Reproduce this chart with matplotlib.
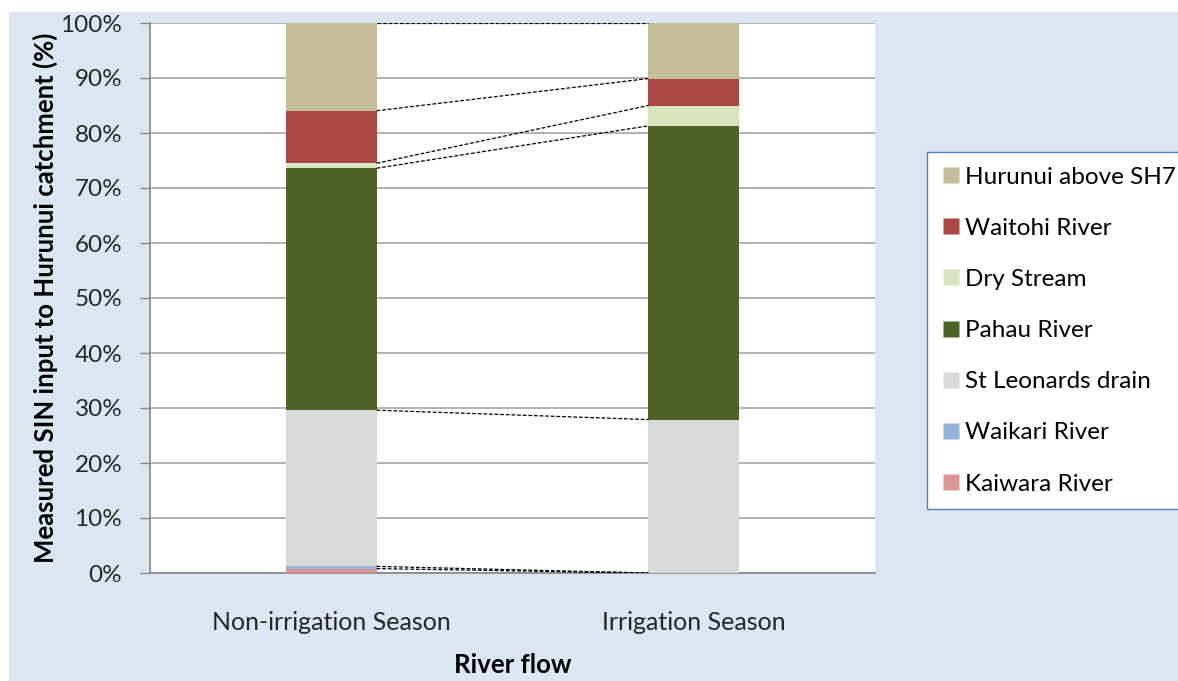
import numpy as np
import matplotlib.pyplot as plt
from matplotlib.patches import Rectangle
from matplotlib.lines import Line2D
from matplotlib.ticker import PercentFormatter

plt.rcParams["font.family"] = ["Lato", "DejaVu Sans"]

# 数据（从图中读取，百分比）
seasons = ["Non-irrigation Season", "Irrigation Season"]
series_names = ["Kaiwara River", "Waikari River", "St Leonards drain", "Pahau River",
                "Dry Stream", "Waitohi River", "Hurunui above SH7"]
kaiwara = [0.8, 0.0]
waikari = [0.4, 0.0]
st_leonards = [28.4, 27.9]
pahau = [44.0, 53.4]
dry_stream = [0.9, 3.7]
waitohi = [9.55, 4.9]
hurunui = [15.95, 10.1]
colors = ["#d99694", "#95b3d7", "#d9d9d9", "#4f6228", "#d7e4bd", "#aa4643", "#c4bd97"]

values = [kaiwara, waikari, st_leonards, pahau, dry_stream, waitohi, hurunui]

fig = plt.figure(figsize=(11.78, 6.81), dpi=100)
# 浅蓝色背景
fig.patches.append(Rectangle((9 / 1178, 0), 1, 1 - 12 / 681, transform=fig.transFigure,
                             facecolor="#dce6f2", edgecolor="none", zorder=-10))

ax = fig.add_axes([150 / 1178, 108 / 681, 725 / 1178, 550 / 681])
ax.set_zorder(1)
ax.set_facecolor("white")

x = np.arange(len(seasons))
width = 0.25
bottom = np.zeros(len(seasons))
tops = []
for name, vals, c in zip(series_names, values, colors):
    vals = np.array(vals)
    ax.bar(x, vals, width, bottom=bottom, color=c, label=name, zorder=3)
    bottom = bottom + vals
    tops.append(bottom.copy())

# 系列线
for t in tops:
    ax.plot([x[0] + width / 2, x[1] - width / 2], [t[0], t[1]], color="black",
            lw=0.9, ls=(0, (3, 1.5)), zorder=4)

ax.set_xlim(-0.5, 1.5)
ax.set_ylim(0, 100)
ax.set_yticks(np.arange(0, 101, 10))
ax.yaxis.set_major_formatter(PercentFormatter(decimals=0))
ax.set_xticks(x)
ax.set_xticklabels(seasons)
ax.grid(axis="y", color="#a6a6a6", lw=1.2, zorder=1)
ax.tick_params(axis="y", length=7, width=1, color="#868686", labelsize=17.5, pad=13, labelcolor="#262626")
ax.tick_params(axis="x", length=0, labelsize=18, pad=27, labelcolor="#262626")
for s in ["top", "right"]:
    ax.spines[s].set_visible(False)
for s in ["left", "bottom"]:
    ax.spines[s].set_color("#868686")
    ax.spines[s].set_linewidth(1.2)

ax.set_ylabel("Measured SIN input to Hurunui catchment (%)", fontsize=18.5, fontweight="bold", labelpad=2)
ax.set_xlabel("River flow", fontsize=18.5, fontweight="bold", labelpad=14)

# 图例（倒序）
handles = [Line2D([], [], ls="none", marker="s", markersize=11, markerfacecolor=c,
                  markeredgecolor="none") for c in colors]
leg = fig.legend(handles[::-1], series_names[::-1], loc="upper left",
                 bbox_to_anchor=(927 / 1178, 1 - 152 / 681), fontsize=17.5,
                 frameon=True, fancybox=False, edgecolor="#4f81bd", facecolor="white",
                 framealpha=1, labelspacing=1.24, handlelength=0.75, handletextpad=0.2,
                 borderpad=0.6, borderaxespad=0)
leg.get_frame().set_linewidth(1.0)

fig.savefig("out.png", dpi=100)
